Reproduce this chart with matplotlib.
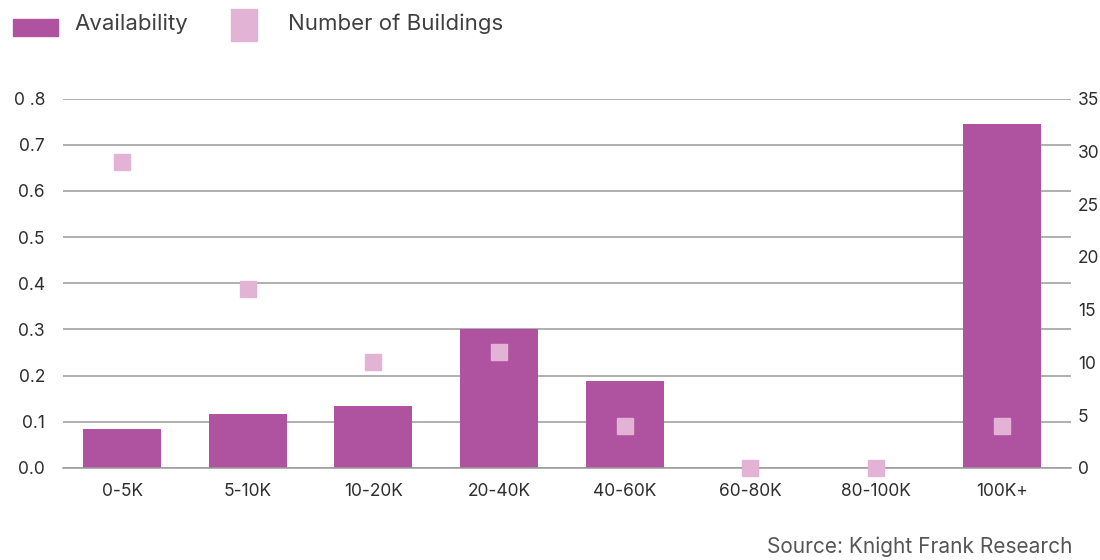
import matplotlib
matplotlib.use("Agg")
import matplotlib.pyplot as plt
from matplotlib.patches import Rectangle
import numpy as np

plt.rcParams["font.family"] = ["Inter", "DejaVu Sans"]

# data
categories = ["0-5K", "5-10K", "10-20K", "20-40K", "40-60K", "60-80K", "80-100K", "100K+"]
availability = [0.085, 0.118, 0.135, 0.30, 0.188, 0.0, 0.0, 0.744]
buildings = [29, 17, 10, 11, 4, 0, 0, 4]
left_ticks = [0.0, 0.1, 0.2, 0.3, 0.4, 0.5, 0.6, 0.7, 0.8]
left_labels = ["0.0", "0.1", "0.2", "0.3", "0.4", "0.5", "0.6", "0.7", "0 .8"]
right_ticks = [0, 5, 10, 15, 20, 25, 30, 35]

BAR_COLOR = "#AF52A0"
MARK_COLOR = "#E3B3D6"
GRID_COLOR = "#9A9A9A"
TEXT_COLOR = "#2E2E2E"

fig = plt.figure(figsize=(11, 5.6), dpi=100)
ax1 = fig.add_axes([0.0573, 0.1643, 0.9163, 0.6597])

x = np.arange(len(categories))
ax1.bar(x, availability, width=0.62, color=BAR_COLOR, zorder=2)
ax1.set_xlim(-0.47, len(categories) - 0.45)
ax1.set_ylim(0, 0.8)
ax1.set_yticks(left_ticks)
ax1.set_yticklabels(left_labels)
ax1.set_xticks(x)
ax1.set_xticklabels(categories)
ax1.grid(axis="y", color=GRID_COLOR, linewidth=1.1, zorder=0)
ax1.set_axisbelow(True)
for side in ["top", "right", "left"]:
    ax1.spines[side].set_visible(False)
ax1.spines["bottom"].set_color(GRID_COLOR)
ax1.spines["bottom"].set_linewidth(1.1)
ax1.tick_params(axis="y", length=0, pad=13, labelsize=12.5, labelcolor=TEXT_COLOR)
ax1.tick_params(axis="x", length=0, pad=11, labelsize=12.5, labelcolor=TEXT_COLOR)

ax2 = ax1.twinx()
ax2.plot(x, buildings, linestyle="none", marker="s", markersize=12,
         color=MARK_COLOR, zorder=3, clip_on=False)
ax2.set_ylim(0, 35)
ax2.set_yticks(right_ticks)
ax2.tick_params(axis="y", length=0, pad=5, labelsize=12.5, labelcolor=TEXT_COLOR)
for side in ["top", "right", "left", "bottom"]:
    ax2.spines[side].set_visible(False)

# legend drawn by hand at the top
fig.add_artist(Rectangle((0.0118, 0.9357), 0.0409, 0.0304,
                         transform=fig.transFigure, color=BAR_COLOR))
fig.text(0.068, 0.957, "Availability", fontsize=16, color="#404040",
         va="center", ha="left")
fig.add_artist(Rectangle((0.21, 0.9268), 0.0236, 0.0571,
                         transform=fig.transFigure, color=MARK_COLOR))
fig.text(0.2618, 0.957, "Number of Buildings", fontsize=16, color="#404040",
         va="center", ha="left")

fig.text(0.975, 0.024, "Source: Knight Frank Research", fontsize=15,
         color="#555555", ha="right", va="center")

fig.savefig("out.png", dpi=100)
